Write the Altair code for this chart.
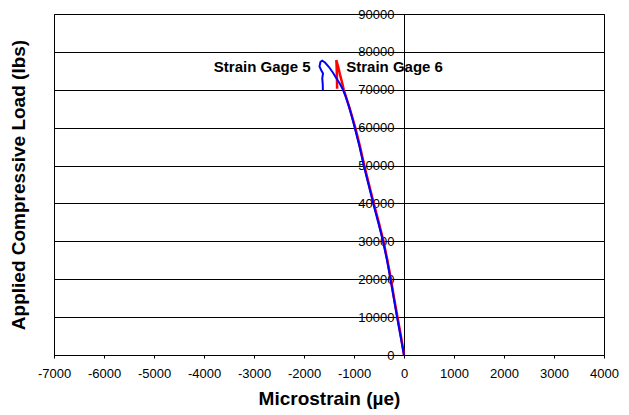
import altair as alt
import pandas as pd

# Strain Gage 5 (blue): load path up to failure and the curl-back after peak
gage5_load = [0, 5000, 10000, 15000, 20000, 25000, 30000, 35000, 40000, 45000,
              50000, 55000, 60000, 63000, 66000, 68000, 70000, 71500, 73000,
              74500, 76000, 77200, 77700, 77400, 76200, 75000, 74300, 73000,
              71500, 69900]
gage5_strain = [0, -70, -140, -205, -270, -340, -420, -515, -615, -710,
                -805, -890, -985, -1045, -1110, -1160, -1220, -1280, -1350,
                -1420, -1500, -1580, -1636, -1670, -1690, -1650, -1620, -1635,
                -1625, -1623]

# Strain Gage 6 (red)
gage6_load = [0, 5000, 10000, 15000, 20000, 25000, 30000, 35000, 40000, 45000,
              50000, 55000, 60000, 65000, 70000, 72000, 74000, 76000, 77800,
              77000, 75000, 72500, 70300]
gage6_strain = [0, -62, -130, -198, -262, -332, -410, -505, -605, -700,
                -795, -880, -975, -1085, -1205, -1240, -1280, -1315, -1355,
                -1350, -1345, -1340, -1338]

x_ticks = list(range(-7000, 4001, 1000))
y_ticks = list(range(0, 90001, 10000))

labels = ["Strain Gage 5", "Strain Gage 6"]
label_strain = [-1870, -1156]
label_load = [75900, 75900]
label_side = ["right", "left"]

rows = []
for i, (s, l) in enumerate(zip(gage5_strain, gage5_load)):
    rows.append({"gage": "Strain Gage 5", "strain": s, "load": l, "idx": i})
for i, (s, l) in enumerate(zip(gage6_strain, gage6_load)):
    rows.append({"gage": "Strain Gage 6", "strain": s, "load": l, "idx": i})
df = pd.DataFrame(rows)

lab_df = pd.DataFrame({"text": labels, "strain": label_strain,
                       "load": label_load, "side": label_side})

FONT = "Liberation Sans"
W, H = 550, 341
x_zero_px = W * 7000 / 11000

x_scale = alt.Scale(domain=[-7000, 4000], nice=False, zero=False)
y_scale = alt.Scale(domain=[0, 90000], nice=False)

x_enc = alt.X("strain:Q", scale=x_scale,
              axis=alt.Axis(values=x_ticks, labelExpr="'' + datum.value",
                            title="Microstrain (µe)", grid=False,
                            labelFlush=False, labelOverlap=False,
                            tickSize=3, labelPadding=9, labelFontSize=13,
                            labelColor="black", tickColor="black",
                            domainColor="black", titleFontSize=19,
                            titleFontWeight="bold", titleColor="black",
                            titleBaseline="alphabetic", titleY=49))
y_enc = alt.Y("load:Q", scale=y_scale,
              axis=alt.Axis(values=y_ticks, labelExpr="'' + datum.value",
                            title="Applied Compressive Load (lbs)",
                            offset=-x_zero_px, grid=True, gridColor="black",
                            gridOpacity=1, gridWidth=1, ticks=False,
                            labelFlush=False, labelOverlap=False,
                            labelBound=False,
                            tickSize=0, labelPadding=10, labelFontSize=13,
                            labelColor="black", domainColor="black",
                            titleFontSize=19, titleFontWeight="bold",
                            titleColor="black", titleAngle=-90,
                            titleBaseline="alphabetic", titleAlign="center",
                            titleX=-x_zero_px - 30, titleY=H / 2))

red = alt.Chart(df[df["gage"] == "Strain Gage 6"]).mark_line(
    color="#FF0000", strokeWidth=2.5).encode(x=x_enc, y=y_enc, order="idx:Q")
blue = alt.Chart(df[df["gage"] == "Strain Gage 5"]).mark_line(
    color="#0000FF", strokeWidth=2).encode(x=x_enc, y=y_enc, order="idx:Q")

txt5 = alt.Chart(lab_df[lab_df["side"] == "right"]).mark_text(
    align="right", baseline="middle", font=FONT, fontSize=15,
    fontWeight="bold", color="black").encode(
    x=x_enc, y=y_enc, text="text:N")
txt6 = alt.Chart(lab_df[lab_df["side"] == "left"]).mark_text(
    align="left", baseline="middle", font=FONT, fontSize=15,
    fontWeight="bold", color="black").encode(
    x=x_enc, y=y_enc, text="text:N")

chart = alt.layer(red, blue, txt5, txt6).properties(
    width=W, height=H,
    autosize=alt.AutoSizeParams(type="none"),
    padding={"left": 54, "top": 14, "right": 25, "bottom": 60},
).configure(font=FONT, background="white").configure_view(
    stroke="black", strokeWidth=1).configure_axis(
    labelFont=FONT, titleFont=FONT, labelOverlap=False)

chart.save("out.html", embed_options={"renderer": "svg", "actions": False})
